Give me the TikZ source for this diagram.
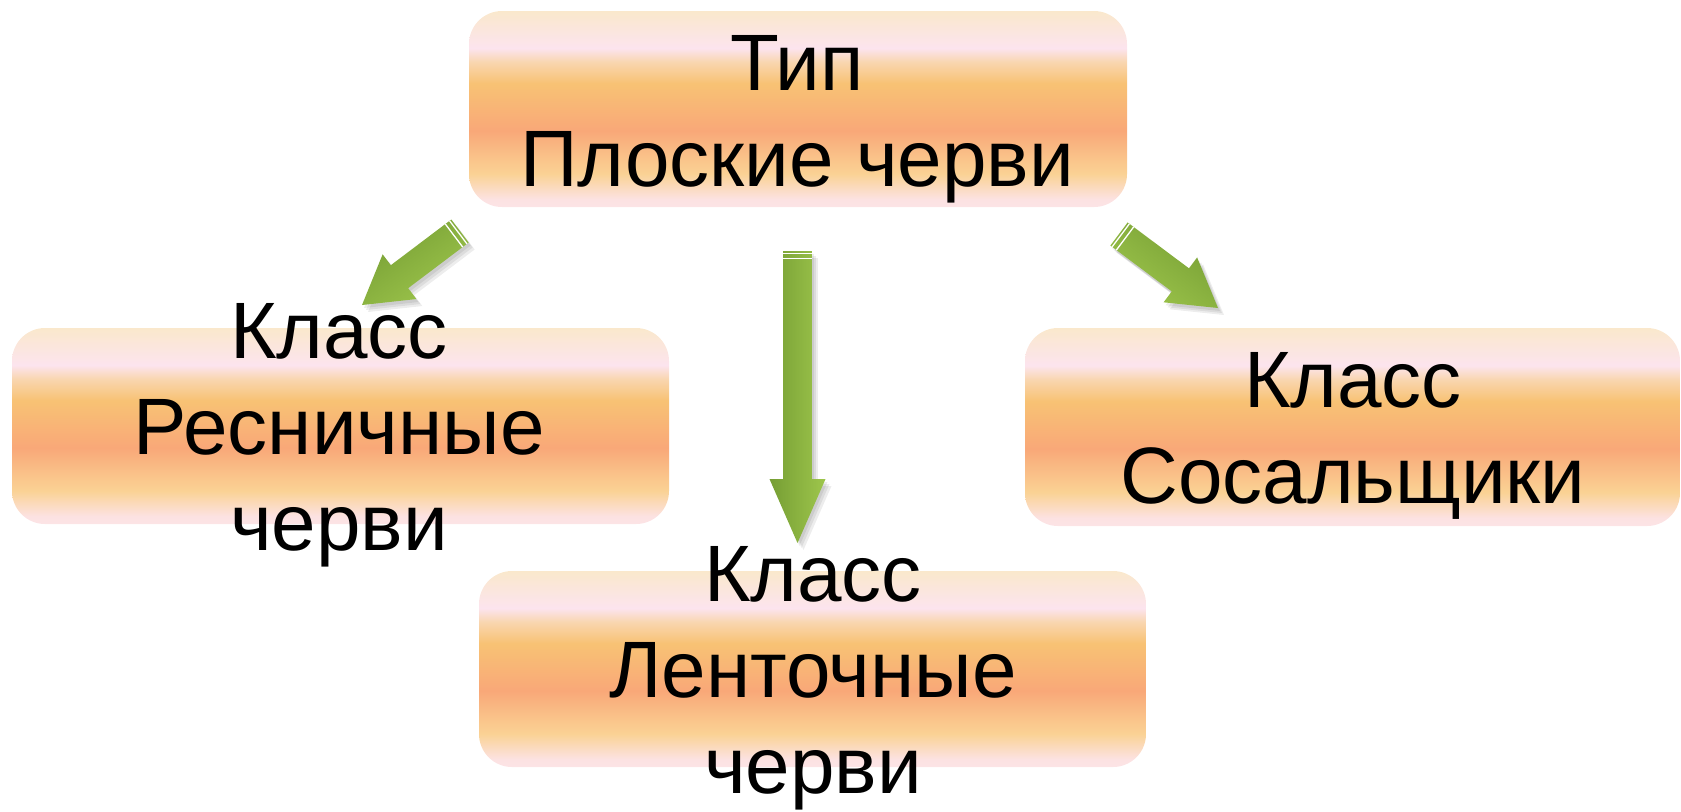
\documentclass[tikz,border=0pt]{standalone}
\usepackage{fontspec}
\setmainfont{Liberation Sans}
\usetikzlibrary{calc}
\definecolor{b0}{RGB}{252,228,230}
\definecolor{b1}{RGB}{252,226,226}
\definecolor{b2}{RGB}{250,210,148}
\definecolor{b3}{RGB}{249,168,120}
\definecolor{b4}{RGB}{248,194,116}
\definecolor{b5}{RGB}{249,214,176}
\definecolor{b6}{RGB}{252,228,238}
\definecolor{b7}{RGB}{250,232,204}
\definecolor{gdark}{RGB}{118,158,52}
\definecolor{glight}{RGB}{158,198,76}
\pgfdeclareverticalshading{boxshade}{100bp}{color(0bp)=(b0); color(25bp)=(b0); color(27bp)=(b1); color(33.5bp)=(b2); color(44.5bp)=(b3); color(56.5bp)=(b4); color(62bp)=(b5); color(65.5bp)=(b6); color(75bp)=(b7); color(100bp)=(b7)}
\newcommand\blockarrow[4]{%
  \coordinate (hb) at ($(#2)!#3!(#1)$);
  \coordinate (s1) at ($(#1)!1.1pt!(#2)$);
  \coordinate (s2) at ($(#1)!3.75pt!(#2)$);
  \coordinate (p1) at ($(#1)!7.2pt!90:(#2)$);
  \coordinate (p7) at ($(#1)!7.2pt!-90:(#2)$);
  \coordinate (p2) at ($(hb)!7.2pt!-90:(#1)$);
  \coordinate (p3) at ($(hb)!14pt!-90:(#1)$);
  \coordinate (p5) at ($(hb)!14pt!90:(#1)$);
  \coordinate (p6) at ($(hb)!7.2pt!90:(#1)$);
  \foreach \sx/\sy in {1/-1.5,2/-2.5,3/-3.5}{%
    \begin{scope}[transform canvas={shift={(\sx pt,\sy pt)}}]
      \fill[black,opacity=0.07] (p1)--(p2)--(p3)--(#2)--(p5)--(p6)--(p7)--cycle;
    \end{scope}}
  \shade[left color=gdark,right color=glight,shading angle=#4] (p1)--(p2)--(p3)--(#2)--(p5)--(p6)--(p7)--cycle;
  \draw[white,line width=0.65pt] ($(s1)!7.2pt!90:(#2)$) -- ($(s1)!7.2pt!-90:(#2)$);
  \draw[white,line width=0.65pt] ($(s2)!7.2pt!90:(#2)$) -- ($(s2)!7.2pt!-90:(#2)$);
}
\begin{document}
\begin{tikzpicture}[x=0.5pt,y=-0.5pt,
  box/.style={shade,shading=boxshade,rounded corners=16.5pt,inner sep=0pt,draw=none,minimum height=98pt},
  txt/.style={anchor=base,inner sep=0pt,font=\fontsize{40pt}{48pt}\selectfont}]
\useasboundingbox (0,0) rectangle (1681,811);
% boxes
\node[box,minimum width=329pt] (top) at (798,109) {};
\node[box,minimum width=328.5pt] (left) at (340.5,426) {};
\node[box,minimum width=327.5pt,minimum height=99pt] (right) at (1352.5,427) {};
\node[box,minimum width=333.5pt] (mid) at (812.5,669) {};
% arrows
\coordinate (lat) at (460,231);
\coordinate (lah) at (362,305);
\coordinate (mat) at (797.5,251);
\coordinate (mah) at (797.5,543);
\coordinate (rat) at (1119,234);
\coordinate (rah) at (1218,308);
\blockarrow{lat}{lah}{23.5pt}{35.6}
\blockarrow{mat}{mah}{32pt}{90}
\blockarrow{rat}{rah}{23.5pt}{-37}
% texts
\node[txt] (t1) at (797,90.7) {Тип};
\node[txt] (t2) at (797,186.7) {Плоские черви};
\node[txt] (l1) at (339,358.5) {Класс};
\node[txt] (l2) at (339,454.5) {Ресничные};
\node[txt] (l3) at (339,550.5) {черви};
\node[txt] (r1) at (1353,407.5) {Класс};
\node[txt] (r2) at (1353,503.5) {Сосальщики};
\node[txt] (m1) at (813,601.5) {Класс};
\node[txt] (m2) at (813,697.5) {Ленточные};
\node[txt] (m3) at (813,793.5) {черви};
\end{tikzpicture}
\end{document}
